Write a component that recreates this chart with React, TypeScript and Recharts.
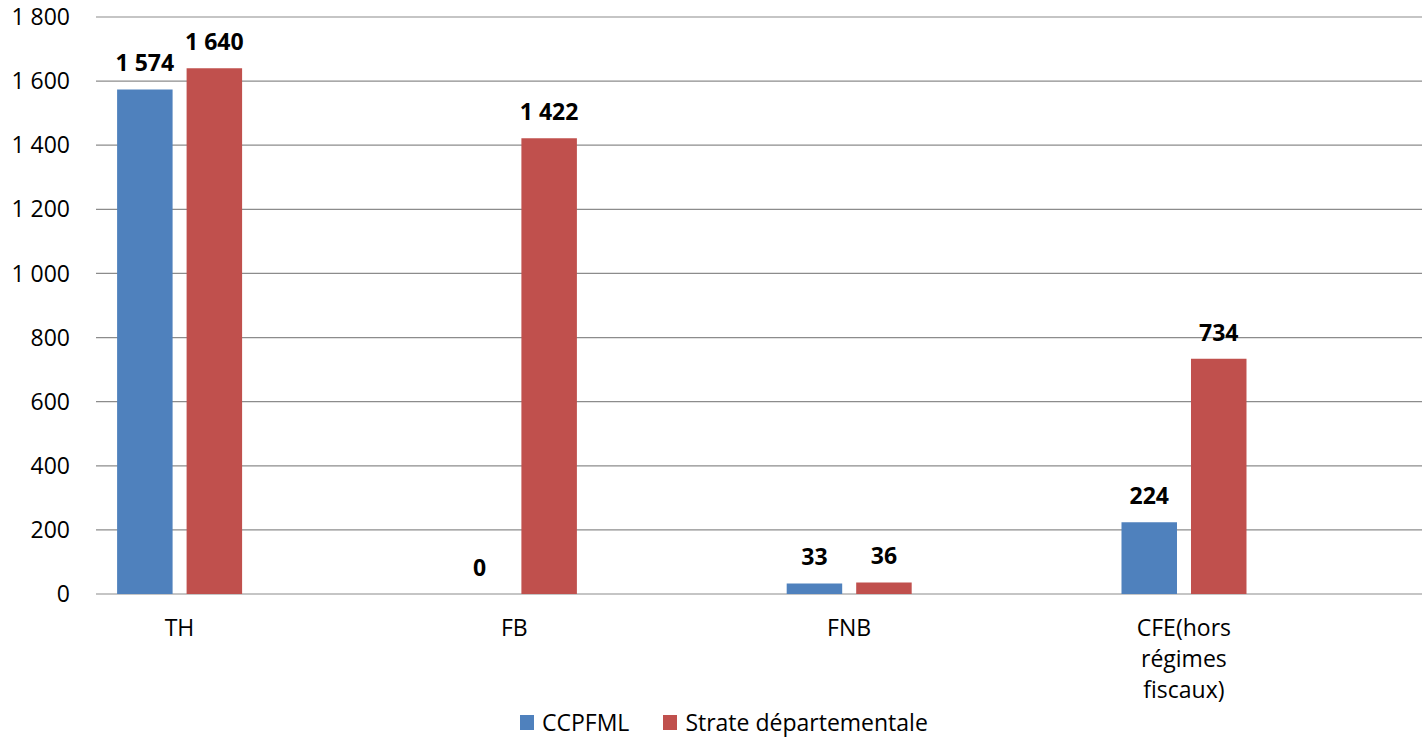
import { BarChart, Bar, XAxis, YAxis, CartesianGrid, LabelList, Legend } from 'recharts';

const CATEGORIES = ['TH', 'FB', 'FNB', 'CFE(hors régimes fiscaux)'];
const CCPFML = [1574, 0, 33, 224];
const STRATE = [1640, 1422, 36, 734];
const Y_TICKS = [0, 200, 400, 600, 800, 1000, 1200, 1400, 1600, 1800];

const BLUE = '#4F81BD';
const RED = '#C0504D';
const GRID = '#8c8c8c';
const FONT = 23;

const data = CATEGORIES.map((name, i) => ({
  idx: i,
  name,
  ccpfml: CCPFML[i],
  strate: STRATE[i],
}));

const fmt = (v: number) => String(v).replace(/\B(?=(\d{3})+(?!\d))/g, ' ');

function CategoryTick({ x, y, payload }: any) {
  const lines = CATEGORIES[payload.value].split(' ');
  return (
    <text x={x} y={y + 42} textAnchor="middle" fill="#000" fontSize={FONT}>
      {lines.map((line, i) => (
        <tspan key={i} x={x} dy={i === 0 ? 0 : 31}>
          {line}
        </tspan>
      ))}
    </text>
  );
}

function LegendBox() {
  const item = (color: string, label: string, gap: number) => (
    <div style={{ display: 'flex', alignItems: 'center', marginRight: gap }}>
      <span style={{ width: 14, height: 15, background: color, marginRight: 8, display: 'inline-block' }} />
      <span style={{ fontSize: FONT, color: '#000', lineHeight: '28px' }}>{label}</span>
    </div>
  );
  return (
    <div style={{ display: 'flex', alignItems: 'center', height: 28, paddingLeft: 520 }}>
      {item(BLUE, 'CCPFML', 34)}
      {item(RED, 'Strate départementale', 0)}
    </div>
  );
}

export default function App() {
  return (
    <div style={{ position: 'absolute', left: 0, top: 0, fontFamily: '"Open Sans", sans-serif', background: '#fff' }}>
      <BarChart
        width={1422}
        height={737}
        data={data}
        margin={{ top: 17, right: 0, bottom: 0, left: 0 }}
        barGap={14}
      >
        <CartesianGrid vertical={false} stroke={GRID} strokeWidth={1.2} />
        <XAxis
          dataKey="idx"
          type="number"
          domain={[-0.2494, 3.7112]}
          ticks={[0, 1, 2, 3]}
          allowDataOverflow
          height={143}
          axisLine={false}
          tickLine={false}
          tickSize={0}
          tickMargin={0}
          tick={<CategoryTick />}
        />
        <YAxis
          domain={[0, 1800]}
          ticks={Y_TICKS}
          width={96}
          axisLine={false}
          tickLine={false}
          tickSize={0}
          tickMargin={26}
          tickFormatter={fmt}
          tick={{ fill: '#000', fontSize: FONT }}
        />
        <Legend
          verticalAlign="middle"
          align="center"
          wrapperStyle={{ top: 708, left: 0, width: 1422, height: 28 }}
          content={() => <LegendBox />}
        />
        <Bar
          dataKey="ccpfml"
          name="CCPFML"
          fill={BLUE}
          barSize={55.5}
          minPointSize={0.01}
          isAnimationActive={false}
        >
          <LabelList
            dataKey="ccpfml"
            position="top"
            offset={18}
            formatter={(v: any) => fmt(v)}
            style={{ fill: '#000', fontSize: FONT, fontWeight: 700 }}
          />
        </Bar>
        <Bar dataKey="strate" name="Strate départementale" fill={RED} barSize={55.5} isAnimationActive={false}>
          <LabelList
            dataKey="strate"
            position="top"
            offset={18}
            formatter={(v: any) => fmt(v)}
            style={{ fill: '#000', fontSize: FONT, fontWeight: 700 }}
          />
        </Bar>
      </BarChart>
    </div>
  );
}
